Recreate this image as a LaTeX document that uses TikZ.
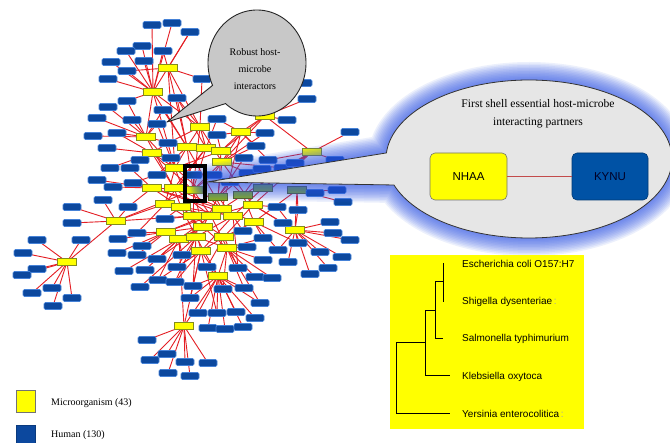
\documentclass[tikz,border=0pt]{standalone}
\usepackage{fontspec}
\setmainfont{Liberation Serif}
\newfontfamily\arialf{Liberation Sans}
\pgfdeclarelayer{bg}
\pgfdeclarelayer{edges}
\pgfsetlayers{bg,edges,main}
\definecolor{edgered}{RGB}{228,30,36}
\definecolor{hubyel}{RGB}{255,255,0}
\definecolor{hubbord}{RGB}{130,140,30}
\definecolor{leafblue}{RGB}{12,72,158}
\definecolor{leafbord}{RGB}{70,130,215}
\definecolor{hubgreen}{RGB}{140,178,28}
\definecolor{glowblue}{RGB}{45,85,230}
\definecolor{bigfill}{RGB}{230,230,230}
\definecolor{smallfill}{RGB}{200,200,200}
\definecolor{kynublue}{RGB}{0,82,165}
\definecolor{pairred}{RGB}{195,75,75}
\begin{document}
\begin{tikzpicture}[x=1pt,y=-1pt,
  hub/.style={rectangle, minimum width=19pt, minimum height=7pt, inner sep=0pt, fill=hubyel, draw=hubbord, line width=0.6pt},
  ghub/.style={hub, fill=hubgreen, draw=hubbord!70!black},
  leaf/.style={rectangle, rounded corners=1.3pt, minimum width=18pt, minimum height=7pt, inner sep=0pt, fill=leafblue, draw=leafbord, line width=0.6pt},
  link/.style={draw=edgered, line width=0.9pt},
  tree/.style={draw=black, line width=1pt},
  taxon/.style={anchor=west, inner sep=0pt, font=\arialf\fontsize{10}{12}\selectfont}]
\begin{pgfonlayer}{bg}
\fill[white] (0,0) rectangle (670,443);
\end{pgfonlayer}
\useasboundingbox (0,0) rectangle (670,443);

% hubs (microorganisms)
\foreach \n/\px/\py in {1/168/68, 2/153/92, 3/146/137, 4/200/127, 5/241/132, 6/265/116,
  7/187/147, 8/206/148, 9/221/151, 10/152/153, 11/222/162, 12/312/152, 13/175/168,
  14/152/188, 15/174/188, 21/253/205, 22/165/204, 23/181/207, 24/116/221, 25/193/216,
  26/211/216, 27/233/216, 28/222/209, 29/203/227, 30/254/222, 31/295/230, 32/166/232,
  33/179/239, 34/196/237, 35/224/237, 36/227/248, 37/201/251, 38/218/276, 39/184/326, 40/67/262}
  {\node[hub] (h\n) at (\px,\py) {};}
\foreach \n/\px/\py in {17/218/197, 18/243/195, 19/263/188, 20/297/190}
  {\node[ghub] (h\n) at (\px,\py) {};}
\node[hub, left color=hubyel, right color=hubgreen] (h16) at (193,190) {};

% leaves (human) with their main link
\foreach \n/\px/\py/\hh in {1/152/25/2, 2/172/23/2, 3/190/32/1, 4/142/46/2, 5/126/51/2, 6/163/51/1,
  7/111/62/2, 8/144/61/2, 9/127/71/2, 10/108/79/2, 11/202/79/4, 12/303/83/6, 13/307/99/6,
  14/127/101/3, 15/108/107/3, 16/177/98/4, 17/163/110/3, 18/132/120/3, 19/97/118/3, 20/157/124/3,
  21/217/119/4, 22/287/120/6, 23/93/136/3, 24/117/133/3, 25/217/135/5, 26/265/133/5, 27/107/148/10,
  28/168/143/10, 29/256/146/5, 30/244/158/9, 31/140/160/10, 32/171/158/10, 33/110/168/10,
  34/130/168/14, 35/157/175/13, 36/97/180/14, 37/113/187/14, 38/133/183/14, 39/103/200/24,
  40/128/207/24, 41/72/207/24, 42/283/168/12, 43/295/163/12, 44/248/173/11, 46/277/207/31,
  47/298/210/20, 48/315/193/20, 49/213/175/11, 50/72/223/24, 51/81/240/40, 52/37/240/40,
  53/23/253/40, 54/37/269/40, 55/22/275/40, 56/52/288/40, 57/32/293/40, 58/72/298/40, 59/53/306/40,
  60/118/239/32, 61/137/233/32, 63/165/219/23, 64/117/253/32, 65/137/255/32, 66/157/259/33,
  67/124/271/33, 68/145/270/33, 69/158/280/33, 70/140/287/34, 71/175/282/34, 72/193/286/38,
  73/177/267/34, 74/182/255/37, 75/207/267/38, 76/238/268/35, 77/247/247/36, 78/263/260/36,
  79/255/277/36, 80/272/278/36, 81/190/298/38, 82/198/313/38, 83/223/289/38, 84/244/288/38,
  86/217/313/38, 87/236/312/38, 88/255/318/38, 89/260/303/38, 90/208/328/38, 91/225/329/38,
  92/243/327/38, 93/147/340/39, 94/167/354/39, 95/150/360/39, 96/185/362/39, 97/208/363/39,
  98/168/373/39, 99/190/376/39, 100/243/231/27, 101/263/238/30, 102/278/250/31, 103/288/262/31,
  104/298/243/31, 105/283/223/31, 107/320/252/31, 108/310/274/31, 109/328/268/31, 110/330/222/31,
  111/350/132/12, 113/262/169/19, 114/335/160/12, 115/337/190/20, 116/343/202/20, 118/333/233/31,
  119/350/240/31, 121/342/257/31, 122/268/160/12, 130/193/175/16, 131/230/182/17, 148/142/246/32}
  {\node[leaf] (b\n) at (\px,\py) {};
   \begin{pgfonlayer}{edges}\draw[link] (b\n.center) -- (h\hh.center);\end{pgfonlayer}}

\begin{pgfonlayer}{edges}
\foreach \ea/\eb in {b16/h7, b16/h8, b17/h7, b20/h13, b21/h8, b25/h9, b26/h11, b29/h11, b30/h17,
  b44/h17, b49/h16, b130/h15, b131/h18, b63/h25, b100/h35, b76/h27, b74/h33, b71/h37, b73/h37,
  b72/h34, b81/h37, b75/h35, b61/h22, b40/h14, b38/h13, b35/h7, b32/h13, b28/h4, b24/h10, b11/h1,
  b21/h5, b43/h19, b42/h11, b46/h21, b47/h31, b104/h30, b105/h21, b101/h36, b102/h30, b89/h36,
  b83/h36, b66/h29, b69/h37, b6/h2, b3/h2, b14/h2, b9/h1, b122/h5, b113/h18, b84/h36, b86/h37,
  h2/h7, h2/h13, h2/h4, h2/h3, h1/h4, h1/h7, h1/h13, h3/h7, h3/h13, h3/h15, h4/h7, h4/h8, h4/h16,
  h5/h9, h5/h11, h6/h9, h6/h11, h6/h5, h6/h12, h7/h13, h7/h16, h8/h16, h8/h15, h9/h17, h10/h13,
  h10/h15, h11/h16, h11/h17, h11/h21, h12/h18, h12/h21, h13/h22, h13/h25, h14/h16, h14/h25,
  h15/h23, h15/h26, h16/h25, h16/h26, h16/h29, h17/h27, h17/h29, h18/h26, h18/h30, h19/h27,
  h20/h30, h20/h31, h21/h26, h21/h35, h22/h26, h22/h29, h23/h27, h23/h34, h24/h16, h24/h25,
  h24/h22, h25/h35, h25/h37, h26/h33, h26/h36, h27/h34, h27/h37, h28/h13, h28/h32, h28/h14,
  h29/h36, h29/h33, h30/h35, h31/h21, h32/h26, h33/h29, h34/h36, h35/h37, h36/h38, h37/h38,
  h38/h34, h39/h38, h39/h37, h39/h33, h40/h24, h9/h13, h8/h22, h10/h16, h7/h28, h5/h28, h4/h11,
  h12/h19, h14/h27, h15/h30, h32/h29}
  {\draw[link] (\ea.center) -- (\eb.center);}
\end{pgfonlayer}

% big callout with glow
\def\bigpath{(207,182) -- plot[domain=184.4:520.8, samples=150] ({529+143*cos(\x)},{159+79*sin(\x)}) -- cycle}
\foreach \w in {36,33,...,3}
  {\draw[glowblue, line width=\w pt, opacity=0.085, line join=round] \bigpath;}
\draw[fill=bigfill, draw=black!80, line width=0.8pt, line join=round] \bigpath;
\node[align=center, font=\fontsize{11.6}{18}\selectfont] (title) at (538,114)
  {First shell essential host-microbe\\interacting partners};
\node[rectangle, rounded corners=5pt, minimum width=77pt, minimum height=47pt, fill=hubyel,
  draw=black!55, line width=0.6pt, font=\arialf\fontsize{11.5}{13}\selectfont] (nhaa) at (468.5,176.5) {NHAA};
\node[rectangle, rounded corners=5pt, minimum width=76pt, minimum height=47pt, fill=kynublue,
  draw=kynublue!70!black, line width=0.6pt, text=black!85!blue, font=\arialf\fontsize{11.5}{13}\selectfont] (kynu) at (610,176.5) {KYNU};
\draw[draw=pairred, line width=0.7pt] (nhaa) -- (kynu);

% small callout
\def\smallpath{(167,122) -- plot[domain=155:490, samples=120] ({257+49*cos(\x)},{63+53*sin(\x)}) -- cycle}
\draw[fill=smallfill, draw=black!85, line width=0.9pt, line join=round] \smallpath;
\node[align=center, font=\fontsize{10}{17}\selectfont] (robust) at (255,69)
  {Robust host-\\microbe\\interactors};

% focus box
\node[draw=black, line width=4pt, minimum width=20pt, minimum height=35pt, inner sep=0pt] (focus) at (195,183.5) {};

% phylogeny panel
\fill[hubyel] (390,255) rectangle (584,429);
\draw[tree] (443,263) -- (443,302);
\draw[tree] (435,282) -- (443,282);
\draw[tree] (435,282) -- (435,339) -- (443,339);
\draw[tree] (425,311) -- (435,311);
\draw[tree] (425,311) -- (425,376) -- (450,376);
\draw[tree] (396,343) -- (425,343);
\draw[tree] (396,343) -- (396,414) -- (450,414);
\node[taxon] (t1) at (462,264) {Escherichia coli O157:H7};
\node[taxon] (t2) at (462,302) {Shigella dysenteriae\,\textcolor{black!35}{:}};
\node[taxon] (t3) at (462,339) {Salmonella typhimurium};
\node[taxon] (t4) at (462,377) {Klebsiella oxytoca};
\node[taxon] (t5) at (462,414) {Yersinia enterocolitica\,\textcolor{black!35}{:}};

% legend
\node[draw=black!55, fill=hubyel, minimum width=19pt, minimum height=22pt, inner sep=0pt] (legy) at (25.5,401) {};
\node[anchor=west, inner sep=0pt, font=\fontsize{10}{12}\selectfont] (legyt) at (51,403) {Microorganism (43)};
\node[draw=leafblue!80!black, fill=leafblue, minimum width=19pt, minimum height=20pt, inner sep=0pt] (legb) at (25.5,435) {};
\node[anchor=west, inner sep=0pt, font=\fontsize{10}{12}\selectfont] (legbt) at (51,435) {Human (130)};
\end{tikzpicture}
\end{document}
